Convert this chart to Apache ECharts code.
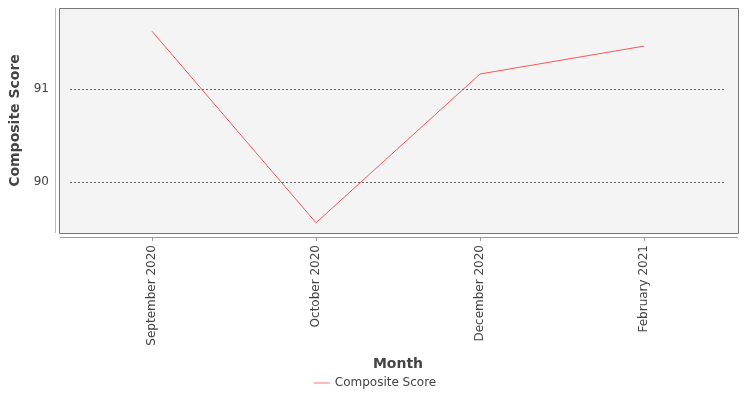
<!DOCTYPE html>
<html><head><meta charset="utf-8">
<script src="https://cdn.jsdelivr.net/npm/echarts@6/dist/echarts.min.js"></script>
<style>html,body{margin:0;padding:0;background:#fff}#c{width:750px;height:400px}</style>
</head><body><div id="c"></div>
<script>
const categories = ['September 2020','October 2020','December 2020','February 2021'];
const scores = [91.62, 89.56, 91.16, 91.46];
const yTicks = [90, 91];
const chart = echarts.init(document.getElementById('c'));
chart.setOption({
  animation:false,
  textStyle:{fontFamily:'DejaVu Sans'},
  graphic:[
    {type:'rect',shape:{x:59.5,y:8.5,width:679,height:225},style:{fill:'#f4f4f4',stroke:'#777',lineWidth:1},z:-10},
    {type:'line',shape:{x1:55.5,y1:8,x2:55.5,y2:233},style:{stroke:'#bbb',lineWidth:1}},
    {type:'line',shape:{x1:60,y1:237.5,x2:738,y2:237.5},style:{stroke:'#999',lineWidth:1}}
  ],
  grid:{left:70,right:24,top:8,bottom:167},
  legend:{bottom:6,left:'center',icon:'path://M0,0L20,0L20,1L0,1Z',itemWidth:16,itemHeight:1,
    textStyle:{fontSize:12,color:'#444'},data:['Composite Score']},
  xAxis:{type:'category',data:categories,boundaryGap:true,offset:4,
    axisLine:{show:false},axisTick:{show:true,alignWithLabel:true,length:4,lineStyle:{color:'#999'}},
    axisLabel:{rotate:90,fontSize:12,color:'#444',margin:8},
    name:'Month',nameLocation:'middle',nameGap:120,nameTextStyle:{fontSize:14,fontWeight:'bold',color:'#444'}},
  yAxis:{type:'value',min:89.45,max:91.87,offset:15,
    axisLine:{show:false},axisTick:{show:false},splitLine:{show:false},
    axisLabel:{customValues:yTicks,fontSize:12,color:'#444',margin:6},
    name:'Composite Score',nameLocation:'middle',nameGap:32,nameTextStyle:{fontSize:14,fontWeight:'bold',color:'#444'}},
  series:[{name:'Composite Score',type:'line',data:scores,symbol:'none',
    lineStyle:{color:'#ff5555',width:1},itemStyle:{color:'#ff5555'},
    markLine:{silent:true,symbol:'none',label:{show:false},
      lineStyle:{type:[2,2],color:'#666',width:1},
      data:yTicks.map(v=>({yAxis:v}))}}]
});
</script></body></html>
